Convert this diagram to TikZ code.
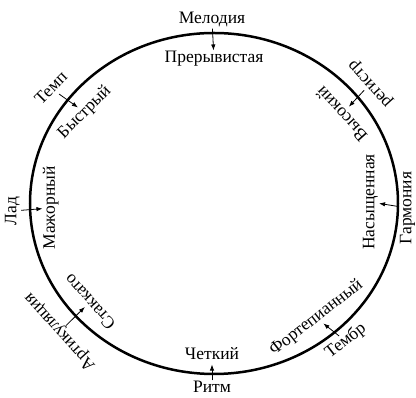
\documentclass[tikz,border=0pt]{standalone}
\usepackage{fontspec}
\setmainfont{Liberation Serif}
\usetikzlibrary{arrows.meta}

\begin{document}
\begin{tikzpicture}[
    x=1pt, y=1pt,
    lbl/.style={inner sep=1pt, outer sep=0pt, text height=11.5pt, text depth=3.6pt, font=\fontsize{17.5}{19}\selectfont},
    pointer/.style={line width=0.8pt, -{Latex[length=6pt,width=4.5pt]}},
    ring/.style={line width=2.5pt}
  ]
    \useasboundingbox (0,0) rectangle (416,398);

    % Ring
    \draw[ring] (214,194.5) ellipse [x radius=184, y radius=170.5];

    % Outer and inner labels
    \node[lbl] (melody) at (212,378) {Мелодия};
    \node[lbl] (broken) at (214,339) {Прерывистая};
    \node[lbl, rotate=132] (register) at (370,314) {регистр};
    \node[lbl, rotate=132] (high) at (343,285) {Высокий};
    \node[lbl, rotate=90] (harmony) at (407.5,190) {Гармония};
    \node[lbl, rotate=90] (rich) at (370.5,196) {Насыщенная};
    \node[lbl, rotate=38] (timbre) at (346,56.5) {Тембр};
    \node[lbl, rotate=38] (piano) at (316.5,80) {Фортепианный};
    \node[lbl] (rhythm) at (212,9) {Ритм};
    \node[lbl] (clear) at (212,42) {Четкий};
    \node[lbl, rotate=132] (artic) at (60,66.5) {Артикуляция};
    \node[lbl, rotate=132] (staccato) at (91,97) {Стаккато};
    \node[lbl, rotate=90] (mode) at (12.5,187) {Лад};
    \node[lbl, rotate=90] (major) at (51,190) {Мажорный};
    \node[lbl, rotate=45] (tempo) at (52,309) {Темп};
    \node[lbl, rotate=45] (fast) at (85,285.5) {Быстрый};

    % Pointers across the ring
    \draw[pointer] (melody) -- (broken);
    \draw[pointer] (register) -- (high);
    \draw[pointer] (harmony) -- (rich);
    \draw[pointer] (timbre) -- (piano);
    \draw[pointer] (rhythm) -- (clear);
    \draw[pointer] (artic) -- (staccato);
    \draw[pointer] (mode) -- (major);
    \draw[pointer] (tempo) -- (fast);
\end{tikzpicture}
\end{document}
